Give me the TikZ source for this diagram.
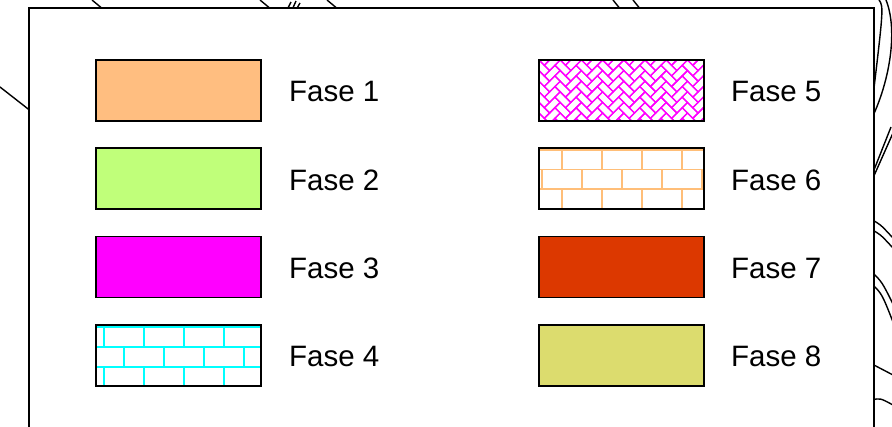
\documentclass[tikz,border=0pt]{standalone}
\usepackage{fontspec}
\setmainfont{Liberation Sans}
\definecolor{f1}{RGB}{255,190,128}
\definecolor{f2}{RGB}{192,255,122}
\definecolor{f3}{RGB}{255,0,255}
\definecolor{f4}{RGB}{0,255,255}
\definecolor{f6}{RGB}{255,190,120}
\definecolor{f7}{RGB}{220,56,0}
\definecolor{f8}{RGB}{220,220,110}
\tikzset{
  swatch/.style={draw=black,line width=1.6pt,inner sep=0pt,outer sep=0pt,minimum width=165pt,minimum height=61pt,anchor=north west},
  lbl/.style={anchor=base west,inner sep=0pt,font=\fontsize{29.5pt}{32pt}\selectfont},
  bg/.style={draw=black,line width=1.4pt},
  frame/.style={draw=black,fill=white,line width=2pt},
  patt/.style={line width=1.5pt}
}
\begin{document}
\begin{tikzpicture}[x=1pt,y=-1pt]
\useasboundingbox (0,0) rectangle (892,427);
\clip (0,0) rectangle (892,427);
% background map lines
\draw[bg] (0,87) -- (32,112);
\draw[bg] (92,0) -- (104,10);
\draw[bg] (260,0) -- (272,10);
\draw[bg] (287,10) -- (291,2) (292,10) -- (296,1) (296,10) -- (300,3);
\draw[bg] (327,0) -- (339,10);
\draw[bg] (613,0) -- (621,10);
\draw[bg] (633,0) -- (641,10);
\draw[bg] (879,0) .. controls (884,6) and (883,12) .. (872,105);
\draw[bg] (886,0) .. controls (898,30) and (890,80) .. (872,118);
\draw[bg] (891,127) -- (872,175);
\draw[bg] (893,133) -- (873,178);
\draw[bg] (872,220) .. controls (880,224) .. (893,238);
\draw[bg] (872,230) .. controls (880,234) .. (893,248);
\draw[bg] (872,272) .. controls (882,282) .. (893,304);
\draw[bg] (872,284) .. controls (882,294) .. (893,322);
\draw[bg] (872,364) -- (893,375);
\draw[bg] (872,400) .. controls (880,398) .. (893,405);
% legend frame
\node[frame,inner sep=0pt,outer sep=0pt,minimum width=845pt,minimum height=440pt,anchor=north west] (legend) at (28.5,8.5) {};
% left column swatches
\node[swatch,fill=f1] (s1) at (96,60) {};
\node[swatch,fill=f2] (s2) at (96,148.3) {};
\node[swatch,fill=f3] (s3) at (96,236.7) {};
% Fase 4: cyan brick
\begin{scope}
\clip (96,325) rectangle (261,386);
\foreach \j in {-1,...,3} {
  \pgfmathsetmacro{\yy}{327+20*\j}
  \draw[f4,patt] (90,\yy) -- (270,\yy);
  \pgfmathsetmacro{\off}{mod(\j+2,2)==1 ? 20 : 0}
  \foreach \i in {-1,...,4} {
    \draw[f4,patt] ({104+\off+40*\i},\yy) -- ({104+\off+40*\i},{\yy+20});
  }
}
\end{scope}
\node[swatch] (s4) at (96,325) {};
% right column
% Fase 5: magenta herringbone
\begin{scope}
\clip (539,60) rectangle (704,121);
\begin{scope}[shift={(539,60)},rotate=-45,x=7.5pt,y=-7.5pt]
\foreach \m in {-4,...,12} {
  \foreach \k in {-6,...,12} {
    \draw[f3,line width=1.3pt] ({\k+2*\m},{\k-2*\m}) rectangle ({\k+2*\m+2},{\k-2*\m+1});
    \draw[f3,line width=1.3pt] ({\k+2*\m},{\k-2*\m+1}) rectangle ({\k+2*\m+1},{\k-2*\m+3});
  }
}
\end{scope}
\end{scope}
\node[swatch] (s5) at (539,60) {};
% Fase 6: orange brick
\begin{scope}
\clip (539,148.3) rectangle (704,209.3);
\foreach \j in {-1,...,3} {
  \pgfmathsetmacro{\yy}{150+19.6*\j}
  \draw[f6,patt] (530,\yy) -- (710,\yy);
  \pgfmathsetmacro{\off}{mod(\j+2,2)==1 ? -20 : 0}
  \foreach \i in {-1,...,4} {
    \draw[f6,patt] ({562+\off+40*\i},\yy) -- ({562+\off+40*\i},{\yy+19.6});
  }
}
\end{scope}
\node[swatch] (s6) at (539,148.3) {};
\node[swatch,fill=f7] (s7) at (539,236.7) {};
\node[swatch,fill=f8] (s8) at (539,325) {};
% labels
\node[lbl] (l1) at (289,102) {Fase 1};
\node[lbl] (l2) at (289,190.3) {Fase 2};
\node[lbl] (l3) at (289,278.7) {Fase 3};
\node[lbl] (l4) at (289,367) {Fase 4};
\node[lbl] (l5) at (731,102) {Fase 5};
\node[lbl] (l6) at (731,190.3) {Fase 6};
\node[lbl] (l7) at (731,278.7) {Fase 7};
\node[lbl] (l8) at (731,367) {Fase 8};
\end{tikzpicture}
\end{document}
